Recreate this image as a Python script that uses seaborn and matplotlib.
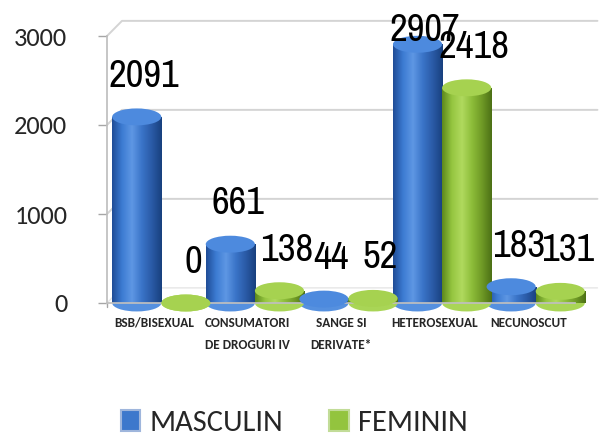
import numpy as np
import pandas as pd
import matplotlib
matplotlib.use("Agg")
import matplotlib.pyplot as plt
from matplotlib import font_manager
from matplotlib.colors import LinearSegmentedColormap
from matplotlib.patches import Ellipse, Patch
import seaborn as sns

categories = ["BSB/BISEXUAL", "CONSUMATORI\nDE DROGURI IV", "SANGE SI\nDERIVATE*",
              "HETEROSEXUAL", "NECUNOSCUT"]
masculin = [2091, 661, 44, 2907, 183]
feminin = [0, 138, 52, 2418, 131]
series_names = ["MASCULIN", "FEMININ"]
yticks = [0, 1000, 2000, 3000]

names = {f.name for f in font_manager.fontManager.ttflist}


def pick(cands, default="Liberation Sans"):
    for c in cands:
        if c in names:
            return c
    return default


calibri = pick(["Carlito", "Calibri", "Lato", "Open Sans"])
narrow = pick(["Liberation Sans Narrow", "Arial Narrow", "Archivo Narrow", "PT Sans Narrow",
               "Roboto Condensed", "Carlito"])

sns.set_theme(style="white")
plt.rcParams["font.family"] = [calibri, "DejaVu Sans"]

df = pd.DataFrame({
    "cat": categories * 2,
    "val": masculin + feminin,
    "sex": [series_names[0]] * len(categories) + [series_names[1]] * len(categories),
})

blue = "#3d78cc"
green = "#93c43e"

XMAX = 4.62
fig = plt.figure(figsize=(6.08, 4.41), dpi=100)
ax = fig.add_axes([107 / 608, 1 - 303 / 441, (93.6 * (XMAX + 0.5)) / 608, (303 - 36) / 441])
sns.barplot(data=df, x="cat", y="val", hue="sex", palette=[blue, green],
            width=1.0, gap=0.0, ax=ax, legend=False, saturation=1)

ax.set_xlabel("")
ax.set_ylabel("")
ax.set_yticks(yticks)
ax.set_yticklabels([str(t) for t in yticks], fontsize=19, family=[calibri, "DejaVu Sans"])
ax.set_xticks(range(len(categories)))
ax.set_xticklabels(categories, fontsize=9.5, fontweight="bold",
                   family=[calibri, "DejaVu Sans"], linespacing=2.0)
ax.tick_params(axis="x", length=0, pad=10)
ax.tick_params(axis="y", length=6.5, color="#a6a6a6", width=1, pad=22, left=True)
for s in ["top", "right"]:
    ax.spines[s].set_visible(False)
ax.spines["left"].set_color("#bfbfbf")
ax.spines["bottom"].set_color("#bfbfbf")
ax.spines["bottom"].set_bounds(-0.5, 4.5)

# 3D back-wall gridlines (offset up/right)
dx, dy = 0.16, 170
for g in yticks[1:]:
    ax.plot([-0.5, -0.5 + dx, 4.74], [g, g + dy, g + dy], color="#d4d4d4", lw=1.4,
            zorder=0.5, clip_on=False)
# floor back edge
ax.plot([-0.5, -0.5 + dx, 4.74], [0, dy, dy], color="#e6e6e6", lw=1.0, zorder=0.4, clip_on=False)
# category separator ticks on the floor
for xb in np.arange(-0.5, 4.6, 1.0):
    ax.plot([xb, xb], [0, -45], color="#a6a6a6", lw=1, clip_on=False, zorder=1)

cm_blue = LinearSegmentedColormap.from_list(
    "b", ["#1f4c96", "#3c7bd2", "#5e97e4", "#3a74c8", "#2a5aa6", "#18407e"])
cm_green = LinearSegmentedColormap.from_list(
    "g", ["#5c881c", "#95c640", "#b0da5e", "#8dbd3a", "#6f9a26", "#4c7015"])
grad = np.linspace(0, 1, 256).reshape(1, -1)

bars = list(ax.patches)
n = len(categories)
vals = masculin + feminin
for i, p in enumerate(bars):
    cmap = cm_blue if i < n else cm_green
    top_col = "#4d8ade" if i < n else "#a6d250"
    x0, w, h = p.get_x(), p.get_width(), p.get_height()
    cx = round(x0 + w / 2 + (0.25 if i < n else -0.25))
    x0 = cx + (x0 - cx) * 1.05 + 0.08
    w = w * 1.05
    p.set_x(x0)
    p.set_width(w)
    p.set_visible(False)
    if h > 0:
        im = ax.imshow(grad, cmap=cmap, aspect="auto", extent=(x0, x0 + w, 0, h),
                       zorder=2, interpolation="bilinear")
        im.set_clip_path(p)
    ax.add_patch(Ellipse((x0 + w / 2, 0), w, 190, facecolor=cmap(0.35), edgecolor="none",
                         zorder=1.9, clip_on=False))
    ax.add_patch(Ellipse((x0 + w / 2, h), w, 190, facecolor=top_col, edgecolor="none",
                         zorder=3, clip_on=False))
    v = vals[i]
    ax.text(x0 + w / 2 + 0.08, min(v + 336, 2946), str(v), ha="center", va="baseline",
            fontsize=28, family=[narrow, "DejaVu Sans"], color="black", zorder=5, clip_on=False)

ax.set_xlim(-0.5, XMAX)
ax.set_ylim(0, 3000)

handles = [Patch(facecolor=blue, edgecolor="#9fb6dc", linewidth=1.5),
           Patch(facecolor=green, edgecolor="#c2dc98", linewidth=1.5)]
fig.legend(handles, series_names, loc="center", bbox_to_anchor=(0.484, 0.04), ncol=2,
           frameon=False, handlelength=0.65, handleheight=0.65,
           handletextpad=0.3, columnspacing=1.5, borderaxespad=0,
           prop={"family": [calibri, "DejaVu Sans"], "size": 22})

fig.savefig("out.png", dpi=100)
